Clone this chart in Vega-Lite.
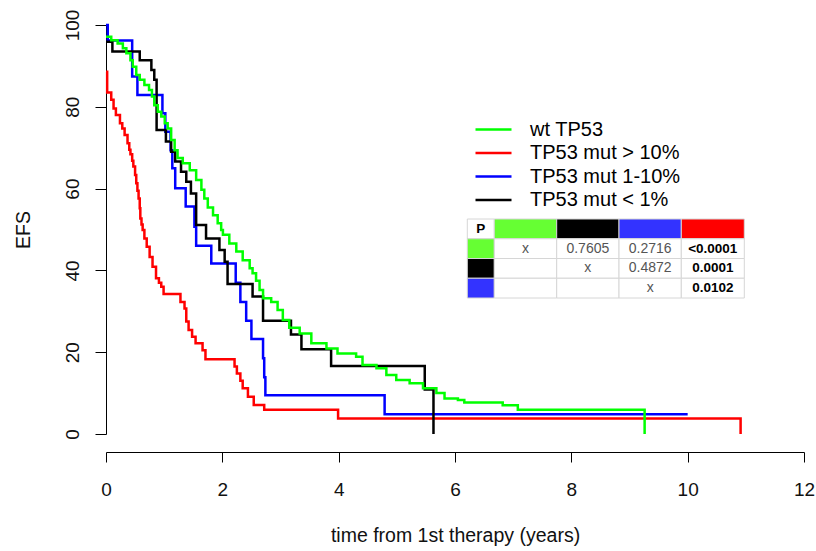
{
  "$schema": "https://vega.github.io/schema/vega-lite/v6.json",
  "width": 698,
  "height": 409,
  "autosize": {"type": "none"},
  "padding": {"left": 106, "top": 25, "right": 12, "bottom": 117},
  "background": "#ffffff",
  "config": {
    "font": "Liberation Sans",
    "view": {"stroke": null}
  },
  "datasets": {
    "curves": [
      {"g": "TP53 mut > 10%", "t": 0, "s": 88.6},
      {"g": "TP53 mut > 10%", "t": 0.02, "s": 83.5},
      {"g": "TP53 mut > 10%", "t": 0.09, "s": 81.7},
      {"g": "TP53 mut > 10%", "t": 0.13, "s": 79.6},
      {"g": "TP53 mut > 10%", "t": 0.17, "s": 78.0},
      {"g": "TP53 mut > 10%", "t": 0.24, "s": 76.0},
      {"g": "TP53 mut > 10%", "t": 0.28, "s": 74.7},
      {"g": "TP53 mut > 10%", "t": 0.32, "s": 73.1},
      {"g": "TP53 mut > 10%", "t": 0.37, "s": 71.1},
      {"g": "TP53 mut > 10%", "t": 0.40, "s": 69.5},
      {"g": "TP53 mut > 10%", "t": 0.42, "s": 68.4},
      {"g": "TP53 mut > 10%", "t": 0.45, "s": 66.8},
      {"g": "TP53 mut > 10%", "t": 0.47, "s": 65.4},
      {"g": "TP53 mut > 10%", "t": 0.50, "s": 63.3},
      {"g": "TP53 mut > 10%", "t": 0.52, "s": 61.3},
      {"g": "TP53 mut > 10%", "t": 0.54, "s": 59.5},
      {"g": "TP53 mut > 10%", "t": 0.56, "s": 57.6},
      {"g": "TP53 mut > 10%", "t": 0.58, "s": 55.2},
      {"g": "TP53 mut > 10%", "t": 0.59, "s": 52.7},
      {"g": "TP53 mut > 10%", "t": 0.61, "s": 51.2},
      {"g": "TP53 mut > 10%", "t": 0.63, "s": 49.9},
      {"g": "TP53 mut > 10%", "t": 0.66, "s": 47.8},
      {"g": "TP53 mut > 10%", "t": 0.70, "s": 45.8},
      {"g": "TP53 mut > 10%", "t": 0.75, "s": 43.3},
      {"g": "TP53 mut > 10%", "t": 0.80, "s": 40.9},
      {"g": "TP53 mut > 10%", "t": 0.86, "s": 38.1},
      {"g": "TP53 mut > 10%", "t": 0.91, "s": 37.0},
      {"g": "TP53 mut > 10%", "t": 0.95, "s": 36.0},
      {"g": "TP53 mut > 10%", "t": 0.99, "s": 34.2},
      {"g": "TP53 mut > 10%", "t": 1.28, "s": 32.3},
      {"g": "TP53 mut > 10%", "t": 1.35, "s": 30.7},
      {"g": "TP53 mut > 10%", "t": 1.38, "s": 27.5},
      {"g": "TP53 mut > 10%", "t": 1.42, "s": 25.4},
      {"g": "TP53 mut > 10%", "t": 1.48, "s": 23.8},
      {"g": "TP53 mut > 10%", "t": 1.54, "s": 22.2},
      {"g": "TP53 mut > 10%", "t": 1.66, "s": 20.5},
      {"g": "TP53 mut > 10%", "t": 1.71, "s": 18.3},
      {"g": "TP53 mut > 10%", "t": 2.21, "s": 16.5},
      {"g": "TP53 mut > 10%", "t": 2.25, "s": 14.8},
      {"g": "TP53 mut > 10%", "t": 2.31, "s": 13.0},
      {"g": "TP53 mut > 10%", "t": 2.35, "s": 11.2},
      {"g": "TP53 mut > 10%", "t": 2.44, "s": 9.1},
      {"g": "TP53 mut > 10%", "t": 2.54, "s": 7.1},
      {"g": "TP53 mut > 10%", "t": 2.72, "s": 5.9},
      {"g": "TP53 mut > 10%", "t": 3.99, "s": 3.8},
      {"g": "TP53 mut > 10%", "t": 10.91, "s": 0},

      {"g": "TP53 mut 1-10%", "t": 0, "s": 100},
      {"g": "TP53 mut 1-10%", "t": 0.03, "s": 96.2},
      {"g": "TP53 mut 1-10%", "t": 0.45, "s": 87.4},
      {"g": "TP53 mut 1-10%", "t": 0.54, "s": 82.9},
      {"g": "TP53 mut 1-10%", "t": 0.97, "s": 78.4},
      {"g": "TP53 mut 1-10%", "t": 1.02, "s": 73.9},
      {"g": "TP53 mut 1-10%", "t": 1.11, "s": 69.4},
      {"g": "TP53 mut 1-10%", "t": 1.14, "s": 65.0},
      {"g": "TP53 mut 1-10%", "t": 1.19, "s": 60.1},
      {"g": "TP53 mut 1-10%", "t": 1.37, "s": 55.6},
      {"g": "TP53 mut 1-10%", "t": 1.52, "s": 50.7},
      {"g": "TP53 mut 1-10%", "t": 1.55, "s": 46.0},
      {"g": "TP53 mut 1-10%", "t": 1.81, "s": 41.7},
      {"g": "TP53 mut 1-10%", "t": 2.23, "s": 37.0},
      {"g": "TP53 mut 1-10%", "t": 2.31, "s": 32.3},
      {"g": "TP53 mut 1-10%", "t": 2.41, "s": 27.7},
      {"g": "TP53 mut 1-10%", "t": 2.50, "s": 23.2},
      {"g": "TP53 mut 1-10%", "t": 2.70, "s": 18.5},
      {"g": "TP53 mut 1-10%", "t": 2.72, "s": 13.9},
      {"g": "TP53 mut 1-10%", "t": 2.74, "s": 9.5},
      {"g": "TP53 mut 1-10%", "t": 4.79, "s": 4.8},
      {"g": "TP53 mut 1-10%", "t": 10.0, "s": 4.8},

      {"g": "TP53 mut < 1%", "t": 0, "s": 95.9},
      {"g": "TP53 mut < 1%", "t": 0.11, "s": 93.5},
      {"g": "TP53 mut < 1%", "t": 0.58, "s": 91.4},
      {"g": "TP53 mut < 1%", "t": 0.78, "s": 89.0},
      {"g": "TP53 mut < 1%", "t": 0.83, "s": 86.6},
      {"g": "TP53 mut < 1%", "t": 0.87, "s": 74.3},
      {"g": "TP53 mut < 1%", "t": 1.03, "s": 71.5},
      {"g": "TP53 mut < 1%", "t": 1.12, "s": 69.0},
      {"g": "TP53 mut < 1%", "t": 1.19, "s": 66.6},
      {"g": "TP53 mut < 1%", "t": 1.29, "s": 64.1},
      {"g": "TP53 mut < 1%", "t": 1.38, "s": 61.7},
      {"g": "TP53 mut < 1%", "t": 1.46, "s": 58.8},
      {"g": "TP53 mut < 1%", "t": 1.55, "s": 51.1},
      {"g": "TP53 mut < 1%", "t": 1.72, "s": 47.8},
      {"g": "TP53 mut < 1%", "t": 1.95, "s": 45.0},
      {"g": "TP53 mut < 1%", "t": 2.04, "s": 42.1},
      {"g": "TP53 mut < 1%", "t": 2.09, "s": 36.7},
      {"g": "TP53 mut < 1%", "t": 2.52, "s": 33.6},
      {"g": "TP53 mut < 1%", "t": 2.70, "s": 27.7},
      {"g": "TP53 mut < 1%", "t": 3.18, "s": 24.3},
      {"g": "TP53 mut < 1%", "t": 3.36, "s": 20.7},
      {"g": "TP53 mut < 1%", "t": 3.87, "s": 16.6},
      {"g": "TP53 mut < 1%", "t": 5.48, "s": 10.9},
      {"g": "TP53 mut < 1%", "t": 5.63, "s": 0},

      {"g": "wt TP53", "t": 0, "s": 97.1},
      {"g": "wt TP53", "t": 0.09, "s": 96.3},
      {"g": "wt TP53", "t": 0.20, "s": 95.5},
      {"g": "wt TP53", "t": 0.29, "s": 94.3},
      {"g": "wt TP53", "t": 0.35, "s": 93.1},
      {"g": "wt TP53", "t": 0.42, "s": 91.4},
      {"g": "wt TP53", "t": 0.46, "s": 89.8},
      {"g": "wt TP53", "t": 0.52, "s": 87.8},
      {"g": "wt TP53", "t": 0.58, "s": 86.6},
      {"g": "wt TP53", "t": 0.66, "s": 85.3},
      {"g": "wt TP53", "t": 0.74, "s": 84.1},
      {"g": "wt TP53", "t": 0.79, "s": 82.5},
      {"g": "wt TP53", "t": 0.83, "s": 80.4},
      {"g": "wt TP53", "t": 0.89, "s": 78.8},
      {"g": "wt TP53", "t": 0.95, "s": 77.6},
      {"g": "wt TP53", "t": 1.01, "s": 76.0},
      {"g": "wt TP53", "t": 1.06, "s": 74.7},
      {"g": "wt TP53", "t": 1.12, "s": 71.9},
      {"g": "wt TP53", "t": 1.18, "s": 69.4},
      {"g": "wt TP53", "t": 1.23, "s": 67.5},
      {"g": "wt TP53", "t": 1.32, "s": 66.2},
      {"g": "wt TP53", "t": 1.44, "s": 64.5},
      {"g": "wt TP53", "t": 1.55, "s": 62.1},
      {"g": "wt TP53", "t": 1.64, "s": 59.7},
      {"g": "wt TP53", "t": 1.69, "s": 57.6},
      {"g": "wt TP53", "t": 1.75, "s": 55.4},
      {"g": "wt TP53", "t": 1.84, "s": 53.5},
      {"g": "wt TP53", "t": 1.92, "s": 51.5},
      {"g": "wt TP53", "t": 1.98, "s": 49.9},
      {"g": "wt TP53", "t": 2.01, "s": 48.7},
      {"g": "wt TP53", "t": 2.12, "s": 46.6},
      {"g": "wt TP53", "t": 2.24, "s": 44.6},
      {"g": "wt TP53", "t": 2.35, "s": 42.5},
      {"g": "wt TP53", "t": 2.47, "s": 40.5},
      {"g": "wt TP53", "t": 2.52, "s": 39.3},
      {"g": "wt TP53", "t": 2.58, "s": 37.5},
      {"g": "wt TP53", "t": 2.64, "s": 35.2},
      {"g": "wt TP53", "t": 2.70, "s": 33.2},
      {"g": "wt TP53", "t": 2.84, "s": 32.3},
      {"g": "wt TP53", "t": 2.95, "s": 30.3},
      {"g": "wt TP53", "t": 3.04, "s": 27.9},
      {"g": "wt TP53", "t": 3.15, "s": 26.0},
      {"g": "wt TP53", "t": 3.33, "s": 24.6},
      {"g": "wt TP53", "t": 3.53, "s": 22.2},
      {"g": "wt TP53", "t": 3.79, "s": 20.9},
      {"g": "wt TP53", "t": 3.98, "s": 19.7},
      {"g": "wt TP53", "t": 4.30, "s": 18.9},
      {"g": "wt TP53", "t": 4.41, "s": 16.9},
      {"g": "wt TP53", "t": 4.65, "s": 16.1},
      {"g": "wt TP53", "t": 4.82, "s": 14.4},
      {"g": "wt TP53", "t": 4.99, "s": 13.2},
      {"g": "wt TP53", "t": 5.22, "s": 12.4},
      {"g": "wt TP53", "t": 5.45, "s": 11.2},
      {"g": "wt TP53", "t": 5.68, "s": 10.0},
      {"g": "wt TP53", "t": 5.82, "s": 8.7},
      {"g": "wt TP53", "t": 6.05, "s": 8.3},
      {"g": "wt TP53", "t": 6.16, "s": 7.7},
      {"g": "wt TP53", "t": 6.82, "s": 7.0},
      {"g": "wt TP53", "t": 7.08, "s": 5.9},
      {"g": "wt TP53", "t": 9.26, "s": 0}
    ],
    "table": [
      {"r": 0, "r1": 1, "ry": 0.5, "c": 0, "c1": 1, "cx": 0.5, "k": "none", "label": "P"},
      {"r": 0, "r1": 1, "ry": 0.5, "c": 1, "c1": 2, "cx": 1.5, "k": "wt TP53", "label": ""},
      {"r": 0, "r1": 1, "ry": 0.5, "c": 2, "c1": 3, "cx": 2.5, "k": "TP53 mut < 1%", "label": ""},
      {"r": 0, "r1": 1, "ry": 0.5, "c": 3, "c1": 4, "cx": 3.5, "k": "TP53 mut 1-10%", "label": ""},
      {"r": 0, "r1": 1, "ry": 0.5, "c": 4, "c1": 5, "cx": 4.5, "k": "TP53 mut > 10%", "label": ""},
      {"r": 1, "r1": 2, "ry": 1.5, "c": 0, "c1": 1, "cx": 0.5, "k": "wt TP53", "label": ""},
      {"r": 1, "r1": 2, "ry": 1.5, "c": 1, "c1": 2, "cx": 1.5, "k": "none", "label": "x"},
      {"r": 1, "r1": 2, "ry": 1.5, "c": 2, "c1": 3, "cx": 2.5, "k": "none", "label": "0.7605"},
      {"r": 1, "r1": 2, "ry": 1.5, "c": 3, "c1": 4, "cx": 3.5, "k": "none", "label": "0.2716"},
      {"r": 1, "r1": 2, "ry": 1.5, "c": 4, "c1": 5, "cx": 4.5, "k": "none", "label": "<0.0001"},
      {"r": 2, "r1": 3, "ry": 2.5, "c": 0, "c1": 1, "cx": 0.5, "k": "TP53 mut < 1%", "label": ""},
      {"r": 2, "r1": 3, "ry": 2.5, "c": 1, "c1": 2, "cx": 1.5, "k": "none", "label": ""},
      {"r": 2, "r1": 3, "ry": 2.5, "c": 2, "c1": 3, "cx": 2.5, "k": "none", "label": "x"},
      {"r": 2, "r1": 3, "ry": 2.5, "c": 3, "c1": 4, "cx": 3.5, "k": "none", "label": "0.4872"},
      {"r": 2, "r1": 3, "ry": 2.5, "c": 4, "c1": 5, "cx": 4.5, "k": "none", "label": "0.0001"},
      {"r": 3, "r1": 4, "ry": 3.5, "c": 0, "c1": 1, "cx": 0.5, "k": "TP53 mut 1-10%", "label": ""},
      {"r": 3, "r1": 4, "ry": 3.5, "c": 1, "c1": 2, "cx": 1.5, "k": "none", "label": ""},
      {"r": 3, "r1": 4, "ry": 3.5, "c": 2, "c1": 3, "cx": 2.5, "k": "none", "label": ""},
      {"r": 3, "r1": 4, "ry": 3.5, "c": 3, "c1": 4, "cx": 3.5, "k": "none", "label": "x"},
      {"r": 3, "r1": 4, "ry": 3.5, "c": 4, "c1": 5, "cx": 4.5, "k": "none", "label": "0.0102"}
    ]
  },
  "layer": [
    {
      "data": {"name": "curves"},
      "mark": {"type": "line", "interpolate": "step-after", "strokeWidth": 2.5},
      "encoding": {
        "x": {
          "field": "t", "type": "quantitative",
          "scale": {"domain": [0, 12], "nice": false, "zero": false},
          "axis": {
            "values": [0, 2, 4, 6, 8, 10, 12],
            "offset": 18, "grid": false, "labelFlush": false,
            "domainColor": "#000000", "tickColor": "#000000", "tickSize": 10,
            "labelFontSize": 19, "labelColor": "#111111", "labelPadding": 18,
            "title": "time from 1st therapy (years)",
            "titleFontSize": 19.5, "titleFontWeight": "normal", "titleColor": "#111111", "titlePadding": 27
          }
        },
        "y": {
          "field": "s", "type": "quantitative",
          "scale": {"domain": [0, 100], "nice": false, "zero": false},
          "axis": {
            "values": [0, 20, 40, 60, 80, 100],
            "grid": false, "labelFlush": false,
            "domainColor": "#000000", "tickColor": "#000000", "tickSize": 11,
            "labelFontSize": 19, "labelColor": "#111111", "labelPadding": 13,
            "labelAngle": 270, "labelAlign": "center", "labelBaseline": "bottom",
            "title": "EFS",
            "titleFontSize": 19.5, "titleFontWeight": "normal", "titleColor": "#111111", "titlePadding": 30
          }
        },
        "stroke": {
          "field": "g", "type": "nominal",
          "scale": {
            "domain": ["wt TP53", "TP53 mut > 10%", "TP53 mut 1-10%", "TP53 mut < 1%"],
            "range": ["#00ff00", "#ff0000", "#0000ff", "#000000"]
          },
          "legend": {
            "title": null, "orient": "none", "legendX": 368, "legendY": 95,
            "padding": 0, "symbolType": "stroke", "symbolSize": 1296, "symbolStrokeWidth": 2.5,
            "clipHeight": 19, "rowPadding": 2.5, "labelOffset": 17,
            "labelFontSize": 20, "labelColor": "#000000", "labelLimit": 400
          }
        }
      }
    },
    {
      "data": {"name": "table"},
      "layer": [
        {
          "mark": {"type": "rect", "stroke": "#d6d6d6", "strokeWidth": 1},
          "encoding": {
            "x": {"field": "c", "type": "quantitative", "axis": null,
              "scale": {"domain": [0, 1, 2, 3, 4, 5], "range": [361.3, 388.3, 450.7, 513, 575.3, 638.3], "nice": false, "zero": false}},
            "x2": {"field": "c1"},
            "y": {"field": "r", "type": "quantitative", "axis": null,
              "scale": {"domain": [0, 4], "range": [194, 273], "nice": false, "zero": false}},
            "y2": {"field": "r1"},
            "fill": {"field": "k", "type": "nominal", "legend": null,
              "scale": {"domain": ["none", "wt TP53", "TP53 mut < 1%", "TP53 mut 1-10%", "TP53 mut > 10%"],
                        "range": ["#ffffff", "#66ff33", "#000000", "#3333ff", "#ff0000"]}}
          }
        },
        {
          "transform": [{"filter": "datum.label != '' && datum.label != 'P' && datum.c < 4"}],
          "mark": {"type": "text", "fontSize": 14, "color": "#555555", "align": "center", "baseline": "middle"},
          "encoding": {
            "x": {"field": "cx", "type": "quantitative", "axis": null,
              "scale": {"domain": [0, 1, 2, 3, 4, 5], "range": [361.3, 388.3, 450.7, 513, 575.3, 638.3], "nice": false, "zero": false}},
            "y": {"field": "ry", "type": "quantitative", "axis": null,
              "scale": {"domain": [0, 4], "range": [194, 273], "nice": false, "zero": false}},
            "text": {"field": "label"}
          }
        },
        {
          "transform": [{"filter": "datum.label != '' && (datum.label == 'P' || datum.c == 4)"}],
          "mark": {"type": "text", "fontSize": 13.5, "fontWeight": "bold", "color": "#000000", "align": "center", "baseline": "middle"},
          "encoding": {
            "x": {"field": "cx", "type": "quantitative", "axis": null,
              "scale": {"domain": [0, 1, 2, 3, 4, 5], "range": [361.3, 388.3, 450.7, 513, 575.3, 638.3], "nice": false, "zero": false}},
            "y": {"field": "ry", "type": "quantitative", "axis": null,
              "scale": {"domain": [0, 4], "range": [194, 273], "nice": false, "zero": false}},
            "text": {"field": "label"}
          }
        }
      ]
    }
  ],
  "resolve": {"scale": {"x": "independent", "y": "independent"}}
}
